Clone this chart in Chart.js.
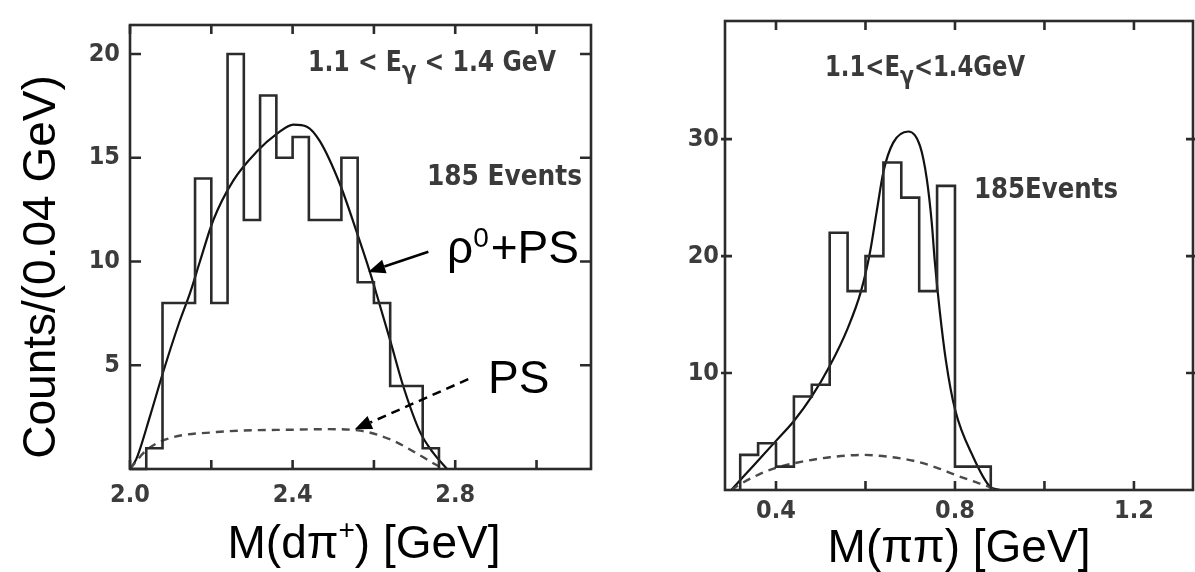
<!DOCTYPE html>
<html>
<head>
<meta charset="utf-8">
<script src="https://cdn.jsdelivr.net/npm/chart.js@4.4.0/dist/chart.umd.min.js"></script>
<style>
  body { margin: 0; background: #fff; width: 1195px; height: 572px; overflow: hidden; position: relative; }
  .panel { position: absolute; top: 0; height: 572px; }
  #leftWrap { left: 0; width: 600px; }
  #rightWrap { left: 600px; width: 595px; }
</style>
</head>
<body>
<div class="panel" id="leftWrap"><canvas id="leftChart"></canvas></div>
<div class="panel" id="rightWrap"><canvas id="rightChart"></canvas></div>
<script>
// ---- Left panel: M(d pi+), 0.04 GeV bins ----
const dpiEdges = [2.00, 2.04, 2.08, 2.12, 2.16, 2.20, 2.24, 2.28, 2.32, 2.36, 2.40,
                  2.44, 2.48, 2.52, 2.56, 2.60, 2.64, 2.68, 2.72, 2.76];
const dpiCounts = [0, 1, 8, 8, 14, 8, 20, 12, 18, 15, 16, 12, 12, 15, 9, 8, 4, 4, 1];
// rho0 + PS fit
const dpiFitX = [2.00, 2.016, 2.05, 2.082, 2.12, 2.148, 2.172, 2.205, 2.254, 2.312, 2.361, 2.402,
                 2.435, 2.467, 2.517, 2.558, 2.59, 2.607, 2.64, 2.672, 2.713, 2.745, 2.78];
const dpiFitY = [0, 0.5, 2.6, 4.7, 7.0, 8.5, 10.0, 12.0, 13.9, 15.3, 16.15, 16.6,
                 16.5, 15.8, 13.7, 11.4, 9.5, 8.4, 6.2, 4.0, 1.8, 0.8, 0];
// phase space only
const dpiPsX = [2.00, 2.04, 2.09, 2.213, 2.418, 2.49, 2.566, 2.648, 2.713, 2.754, 2.775];
const dpiPsY = [0, 0.9, 1.44, 1.78, 1.9, 1.92, 1.85, 1.36, 0.66, 0.19, 0];
const dpiXTicks = [2.0, 2.2, 2.4, 2.6, 2.8, 3.0];
const dpiXLabels = ['2.0', '', '2.4', '', '2.8', ''];
const dpiYTicks = [5, 10, 15, 20];

// ---- Right panel: M(pi pi), 0.04 GeV bins ----
const pipiEdges = [0.32, 0.36, 0.40, 0.44, 0.48, 0.52, 0.56, 0.60, 0.64, 0.68, 0.72, 0.76, 0.80, 0.84, 0.88];
const pipiCounts = [3, 4, 2, 8, 9, 22, 17, 20, 28, 25, 17, 26, 2, 2];
const pipiFitX = [0.30, 0.35, 0.40, 0.44, 0.48, 0.52, 0.56, 0.59, 0.61, 0.625, 0.64,
                  0.662, 0.696, 0.722, 0.737, 0.748, 0.755, 0.766, 0.78, 0.80, 0.841, 0.878, 0.90];
const pipiFitY = [0, 2.1, 4.2, 5.9, 8.0, 10.6, 13.8, 17.0, 20.3, 23.8, 27.2,
                  29.7, 30.65, 29.4, 26.6, 22.9, 19.5, 15.3, 11.0, 6.9, 2.8, 0.3, 0];
const pipiPsX = [0.30, 0.316, 0.36, 0.40, 0.442, 0.52, 0.595, 0.65, 0.707, 0.76, 0.80, 0.84, 0.874, 0.89];
const pipiPsY = [0, 0.4, 1.3, 1.9, 2.3, 2.8, 3.0, 2.85, 2.5, 1.9, 1.3, 0.75, 0.3, 0];
const pipiXTicks = [0.4, 0.6, 0.8, 1.0, 1.2];
const pipiXLabels = ['0.4', '', '0.8', '', '1.2'];
const pipiYTicks = [10, 20, 30];

const SCAN_FONT = "'DejaVu Sans Condensed', 'DejaVu Sans', sans-serif";
const ARIAL = "'Liberation Sans', Arial, sans-serif";
const INK = '#2b2b2b';

// histogram outline as step points
function stepPoints(edges, counts) {
    const pts = [{ x: edges[0], y: 0 }];
    counts.forEach((c, i) => pts.push({ x: edges[i], y: c }));
    pts.push({ x: edges[edges.length - 1], y: counts[counts.length - 1] });
    pts.push({ x: edges[edges.length - 1], y: 0 });
    return pts;
}

function xy(xs, ys) {
    return xs.map((x, i) => ({ x: x, y: ys[i] }));
}

// rich text: parts = [{t, size, dy}], drawn left to right
function richText(ctx, parts, x, base, family, color, align) {
    let w = 0;
    parts.forEach(p => { ctx.font = p.size + 'px ' + family; p.w = ctx.measureText(p.t).width; w += p.w + (p.gap || 0); });
    let cx = align === 'center' ? x - w / 2 : x;
    ctx.fillStyle = color;
    ctx.textBaseline = 'alphabetic';
    ctx.textAlign = 'left';
    parts.forEach(p => {
        ctx.font = p.size + 'px ' + family;
        ctx.fillText(p.t, cx, base + (p.dy || 0));
        cx += p.w + (p.gap || 0);
    });
}

// scanned-looking label squeezed between x0 and x1
function scanText(ctx, parts, x0, x1, base, size) {
    ctx.save();
    let w = 0;
    const fontOf = p => 'bold ' + (p.sub ? size * 0.9 : size) + 'px ' + SCAN_FONT;
    parts.forEach(p => {
        ctx.font = fontOf(p);
        p.w = ctx.measureText(p.t).width;
        w += p.w;
    });
    ctx.translate(x0, base);
    ctx.scale((x1 - x0) / w, 1);
    ctx.filter = 'blur(0.5px)';
    ctx.fillStyle = '#3a3a3a';
    ctx.textAlign = 'left';
    ctx.textBaseline = 'alphabetic';
    let cx = 0;
    parts.forEach(p => {
        ctx.font = fontOf(p);
        ctx.fillText(p.t, cx, p.sub ? size * 0.3 : 0);
        cx += p.w;
    });
    ctx.restore();
}

function arrow(ctx, x0, y0, x1, y1, dashed) {
    const ang = Math.atan2(y1 - y0, x1 - x0);
    const len = 17, half = 7;
    const bx = x1 - len * Math.cos(ang), by = y1 - len * Math.sin(ang);
    ctx.save();
    ctx.strokeStyle = '#000';
    ctx.fillStyle = '#000';
    ctx.lineWidth = 2.5;
    if (dashed) ctx.setLineDash([9, 6]);
    ctx.beginPath();
    ctx.moveTo(x0, y0);
    ctx.lineTo(bx, by);
    ctx.stroke();
    ctx.setLineDash([]);
    ctx.beginPath();
    ctx.moveTo(x1, y1);
    ctx.lineTo(bx + half * Math.sin(ang), by - half * Math.cos(ang));
    ctx.lineTo(bx - half * Math.sin(ang), by + half * Math.cos(ang));
    ctx.closePath();
    ctx.fill();
    ctx.restore();
}

// frame with inward ticks, plus soft "scan" look for the data lines
function framePlugin(cfg) {
    return {
        id: 'frame',
        beforeDatasetsDraw(chart) {
            chart.ctx.save();
            chart.ctx.filter = 'blur(0.5px)';
        },
        afterDatasetsDraw(chart) {
            const ctx = chart.ctx;
            ctx.restore();
            const a = chart.chartArea;
            const x = chart.scales.x, y = chart.scales.y;
            ctx.save();
            ctx.filter = 'blur(0.5px)';
            ctx.strokeStyle = INK;
            ctx.lineWidth = 2.6;
            ctx.strokeRect(a.left, a.top, a.right - a.left, a.bottom - a.top);
            ctx.beginPath();
            cfg.xTicks.forEach(v => {
                const px = x.getPixelForValue(v);
                ctx.moveTo(px, a.bottom); ctx.lineTo(px, a.bottom - 9);
                ctx.moveTo(px, a.top); ctx.lineTo(px, a.top + 9);
            });
            cfg.yTicks.forEach(v => {
                const py = y.getPixelForValue(v);
                ctx.moveTo(a.left - cfg.yOut, py); ctx.lineTo(a.left + cfg.yIn, py);
                ctx.moveTo(a.right - cfg.yIn, py); ctx.lineTo(a.right + cfg.yOut, py);
            });
            ctx.stroke();
            ctx.restore();
        }
    };
}

function makePanel(id, p) {
    const ctx = document.getElementById(id).getContext('2d');
    return new Chart(ctx, {
        type: 'line',
        data: {
            datasets: [
                {
                    label: 'Histogram',
                    data: stepPoints(p.edges, p.counts),
                    stepped: 'before',
                    borderColor: INK,
                    borderWidth: 2.6,
                    pointRadius: 0,
                    fill: false,
                    clip: 4
                },
                {
                    label: 'PS',
                    data: xy(p.psX, p.psY),
                    borderColor: '#4a4a4a',
                    borderWidth: 2.4,
                    borderDash: [8, 6],
                    cubicInterpolationMode: 'monotone',
                    pointRadius: 0,
                    fill: false,
                    clip: 4
                },
                {
                    label: 'Fit',
                    data: xy(p.fitX, p.fitY),
                    borderColor: '#111',
                    borderWidth: 2.2,
                    cubicInterpolationMode: 'monotone',
                    pointRadius: 0,
                    fill: false,
                    clip: 4
                }
            ]
        },
        options: {
            responsive: true,
            maintainAspectRatio: false,
            animation: false,
            events: [],
            layout: { padding: { top: p.padTop, right: p.padRight, left: 0, bottom: 0 } },
            plugins: { legend: { display: false }, tooltip: { enabled: false } },
            scales: {
                x: {
                    type: 'linear',
                    min: p.xMin,
                    max: p.xMax,
                    afterBuildTicks: s => { s.ticks = p.xTicks.map(v => ({ value: v })); },
                    afterFit: s => { s.height = p.bottomH; },
                    ticks: {
                        autoSkip: false,
                        maxRotation: 0,
                        padding: p.xPad,
                        color: '#3c3c3c',
                        font: { family: SCAN_FONT, size: 25, weight: 'bold' },
                        callback: (v, i) => p.xLabels[i]
                    },
                    grid: { display: false, drawTicks: false },
                    border: { display: false }
                },
                y: {
                    min: 0,
                    max: p.yMax,
                    afterBuildTicks: s => { s.ticks = p.yTicks.map(v => ({ value: v })); },
                    afterFit: s => { s.width = p.leftW; },
                    ticks: {
                        padding: p.yPad,
                        color: '#3c3c3c',
                        font: { family: SCAN_FONT, size: 25, weight: 'bold' }
                    },
                    grid: { display: false, drawTicks: false },
                    border: { display: false }
                }
            }
        },
        plugins: [framePlugin({ xTicks: p.xTicks, yTicks: p.yTicks, yIn: p.yIn, yOut: p.yOut }), {
            id: 'labels',
            afterDraw: chart => p.drawText(chart)
        }]
    });
}

makePanel('leftChart', {
    edges: dpiEdges, counts: dpiCounts,
    fitX: dpiFitX, fitY: dpiFitY, psX: dpiPsX, psY: dpiPsY,
    xMin: 2.0, xMax: 3.134, yMax: 21.4,
    xTicks: dpiXTicks, xLabels: dpiXLabels, yTicks: dpiYTicks,
    padTop: 13, padRight: 9, bottomH: 103, leftW: 130,
    xPad: 11, yPad: 10, yIn: 11, yOut: 0,
    drawText: chart => {
        const ctx = chart.ctx, x = chart.scales.x, y = chart.scales.y;
        ctx.save();
        // y title
        ctx.translate(42, 267);
        ctx.rotate(-Math.PI / 2);
        ctx.font = '46px ' + ARIAL;
        ctx.fillStyle = '#000';
        ctx.textAlign = 'center';
        ctx.textBaseline = 'middle';
        ctx.fillText('Counts/(0.04 GeV)', 0, 0);
        ctx.restore();
        ctx.save();
        richText(ctx, [{ t: 'M(dπ', size: 46 }, { t: '+', size: 28, dy: -19 }, { t: ') [GeV]', size: 46 }],
            364, 558, ARIAL, '#000', 'center');
        scanText(ctx, [{ t: '1.1 < E' }, { t: 'γ', sub: true }, { t: ' < 1.4 GeV' }], 308, 556, 71, 28);
        scanText(ctx, [{ t: '185 Events' }], 427, 582, 185, 29);
        richText(ctx, [{ t: 'ρ', size: 46 }, { t: '0', size: 28, dy: -16, gap: 2 }, { t: '+PS', size: 46 }],
            447, 263, ARIAL, '#000', 'left');
        richText(ctx, [{ t: 'PS', size: 46 }], 488, 393, ARIAL, '#000', 'left');
        arrow(ctx, x.getPixelForValue(2.734), y.getPixelForValue(10.47),
            x.getPixelForValue(2.586), y.getPixelForValue(9.5), false);
        arrow(ctx, x.getPixelForValue(2.832), y.getPixelForValue(4.33),
            x.getPixelForValue(2.553), y.getPixelForValue(1.91), true);
        ctx.restore();
    }
});

makePanel('rightChart', {
    edges: pipiEdges, counts: pipiCounts,
    fitX: pipiFitX, fitY: pipiFitY, psX: pipiPsX, psY: pipiPsY,
    xMin: 0.286, xMax: 1.332, yMax: 40.1,
    xTicks: pipiXTicks, xLabels: pipiXLabels, yTicks: pipiYTicks,
    padTop: 16, padRight: 2, bottomH: 82, leftW: 125,
    xPad: 6, yPad: 6, yIn: 7, yOut: 4,
    drawText: chart => {
        const ctx = chart.ctx;
        ctx.save();
        richText(ctx, [{ t: 'M(ππ) [GeV]', size: 46 }], 359, 562, ARIAL, '#000', 'center');
        scanText(ctx, [{ t: '1.1<E' }, { t: 'γ', sub: true }, { t: '<1.4GeV' }], 225, 425, 76, 28);
        scanText(ctx, [{ t: '185Events' }], 374, 518, 198, 29);
        ctx.restore();
    }
});
</script>
</body>
</html>
